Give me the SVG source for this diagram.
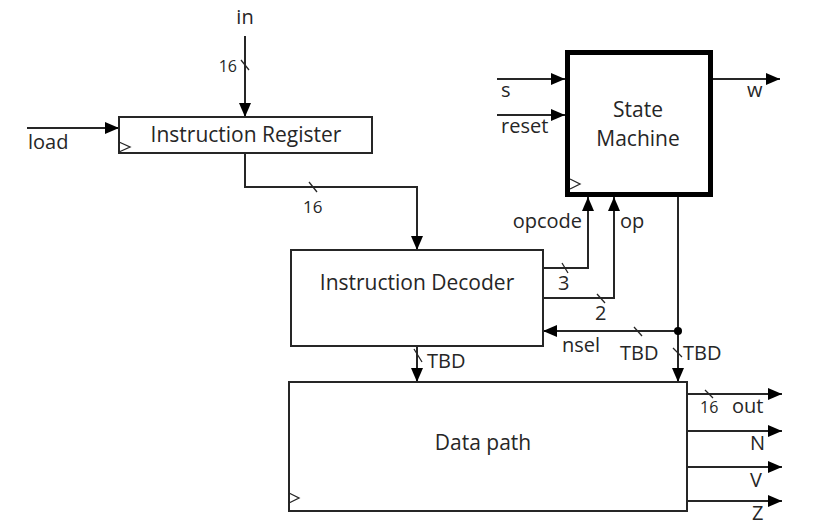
<svg xmlns="http://www.w3.org/2000/svg" width="814" height="530" viewBox="0 0 814 530">
<style>
text{font-family:"Open Sans","Liberation Sans",sans-serif;font-size:20px;fill:#262626}
.sm{font-size:16px}
.t{font-size:21px}
.mid{text-anchor:middle}
.end{text-anchor:end}
.box{fill:#fff;stroke:#262626;stroke-width:2}
.thick{fill:#fff;stroke:#000;stroke-width:5}
.clk{fill:none;stroke:#262626;stroke-width:1.3}
.w{fill:none;stroke:#262626;stroke-width:2}
.a{marker-end:url(#ah)}
.sl{stroke:#262626;stroke-width:1.3;fill:none}
</style>
<defs>
<marker id="ah" viewBox="0 0 14 12" refX="14" refY="6" markerWidth="14" markerHeight="12" markerUnits="userSpaceOnUse" orient="auto"><path d="M0,0 L14,6 L0,12 z" fill="#000"/></marker>
</defs>
<g id="connectors">
<path class="w a" d="M245,36 V117"/>
<path class="w a" d="M27,128 H119"/>
<path class="w a" d="M245,153 V187 H417 V250"/>
<path class="w a" d="M543,268 H588 V197"/>
<path class="w a" d="M543,298 H614 V197"/>
<path class="w a" d="M678,197 V382"/>
<path class="w a" d="M678,331 H543"/>
<circle cx="678" cy="331" r="4" fill="#000"/>
<path class="w a" d="M417,346 V382"/>
<path class="w a" d="M497,79 H565"/>
<path class="w a" d="M497,115 H565"/>
<path class="w a" d="M713,79 H780"/>
<path class="w a" d="M687,394 H782"/>
<path class="w a" d="M687,431 H782"/>
<path class="w a" d="M687,467 H782"/>
<path class="w a" d="M687,501 H782"/>
<path class="sl" d="M241,60 L249,70 M309,182 L317,192 M562,263 L568,273 M597,294 L605,303 M634,327 L642,336 M673,348 L682,357 M414,349 L422,362 M705,390 L713,398"/>
<text x="245" y="24" class="mid">in</text>
<text x="237" y="72" class="sm end">16</text>
<text x="28" y="149">load</text>
<text x="303" y="213" class="sm" style="font-size:17px">16</text>
<text x="558" y="290">3</text>
<text x="595" y="320">2</text>
<text x="582" y="228" class="end">opcode</text>
<text x="620" y="228">op</text>
<text x="562" y="352">nsel</text>
<text x="620" y="360">TBD</text>
<text x="683" y="360">TBD</text>
<text x="427" y="368">TBD</text>
<text x="501" y="97">s</text>
<text x="501" y="133">reset</text>
<text x="747" y="97">w</text>
<text x="700" y="413" class="sm">16</text>
<text x="732" y="413">out</text>
<text x="750" y="450">N</text>
<text x="750" y="487">V</text>
<text x="752" y="520">Z</text>
</g>
<g id="instruction-register">
<rect class="box" x="119" y="117" width="253" height="36"/>
<path class="clk" d="M119,142 L130,147 L119,152"/>
<text x="246" y="142" class="mid t">Instruction Register</text>
</g>
<g id="instruction-decoder">
<rect class="box" x="291" y="250" width="252" height="96"/>
<text x="417" y="290" class="mid t">Instruction Decoder</text>
</g>
<g id="state-machine">
<rect class="thick" x="567.5" y="52.5" width="143" height="142"/>
<path class="clk" d="M570,179 L580,184 L570,189"/>
<text x="638" y="117" class="mid t">State</text>
<text x="638" y="146" class="mid t">Machine</text>
</g>
<g id="data-path">
<rect class="box" x="289" y="382" width="398" height="129"/>
<path class="clk" d="M289,493 L299,498 L289,503"/>
<text x="483" y="450" class="mid t">Data path</text>
</g>
</svg>
